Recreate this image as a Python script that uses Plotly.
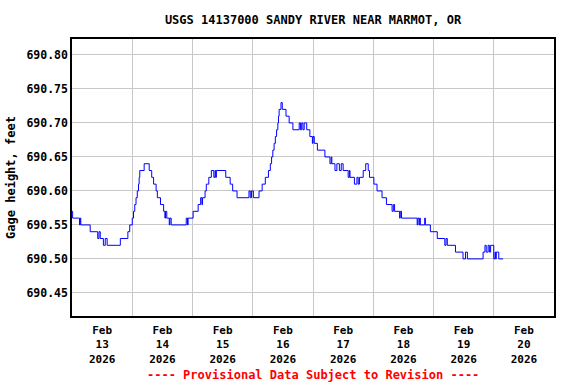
import pandas as pd
import plotly.graph_objects as go

# Hours since 2026-02-13 00:00 at which gage height changes (step data)
hours = [0, 0.25, 3.0, 3.25, 3.5, 7.25, 10.25, 10.75, 11.25, 12.5, 13.25, 14.0, 19.25,
         22.25, 23.0, 24.0, 24.5, 25.0, 25.5, 26.0, 26.5, 26.75, 27.0, 28.75, 30.75,
         31.75, 32.5, 33.5, 34.0, 35.25, 36.5, 37.0, 37.25, 37.75, 38.75, 39.0, 39.5,
         45.5, 46.0, 46.25, 48.25, 50.25, 51.25, 51.75, 52.0, 53.0, 53.5, 54.5, 55.5,
         56.5, 57.0, 57.25, 57.5, 61.25, 63.0, 64.0, 65.75, 70.5, 71.0, 71.5, 72.25,
         74.5, 75.75, 77.0, 78.25, 79.0, 79.5, 80.0, 80.5, 81.0, 81.5, 82.0, 82.25,
         82.5, 83.25, 83.75, 85.25, 86.5, 88.0, 90.5, 91.0, 91.5, 92.0, 92.5, 93.5,
         94.75, 95.75, 96.0, 96.5, 97.75, 100.75, 102.75, 103.25, 103.5, 104.75, 105.5,
         106.5, 107.25, 108.0, 110.0, 110.5, 110.75, 112.5, 113.5, 114.0, 114.5, 116.0,
         117.0, 118.0, 118.5, 120.25, 121.5, 123.5, 125.25, 127.5, 128.0, 128.5, 130.5,
         130.75, 131.25, 137.5, 137.75, 138.25, 138.5, 138.75, 140.5, 140.75, 142.75,
         145.5, 148.5, 149.0, 149.5, 152.75, 155.75, 156.75, 157.5, 163.75, 164.5,
         165.0, 165.75, 166.25, 166.75, 168.0, 168.5, 168.75, 169.0, 170.0, 171.75]
heights = [690.57, 690.56, 690.55, 690.56, 690.55, 690.54, 690.53, 690.54, 690.53, 690.52,
           690.53, 690.52, 690.53, 690.54, 690.55, 690.56, 690.57, 690.58, 690.59, 690.60,
           690.61, 690.62, 690.63, 690.64, 690.63, 690.62, 690.61, 690.60, 690.59, 690.58,
           690.57, 690.56, 690.57, 690.56, 690.55, 690.56, 690.55, 690.56, 690.55, 690.56,
           690.57, 690.58, 690.59, 690.58, 690.59, 690.60, 690.61, 690.62, 690.63, 690.62,
           690.63, 690.62, 690.63, 690.62, 690.61, 690.60, 690.59, 690.60, 690.59, 690.60,
           690.59, 690.60, 690.61, 690.62, 690.63, 690.64, 690.65, 690.66, 690.67, 690.68,
           690.69, 690.70, 690.71, 690.72, 690.73, 690.72, 690.71, 690.70, 690.69, 690.70,
           690.69, 690.70, 690.69, 690.70, 690.69, 690.68, 690.67, 690.68, 690.67, 690.66,
           690.65, 690.64, 690.65, 690.64, 690.63, 690.64, 690.63, 690.64, 690.63, 690.62,
           690.63, 690.62, 690.61, 690.62, 690.61, 690.62, 690.63, 690.64, 690.63, 690.62,
           690.61, 690.60, 690.59, 690.58, 690.57, 690.58, 690.57, 690.56, 690.57, 690.56,
           690.55, 690.56, 690.55, 690.56, 690.55, 690.56, 690.55, 690.54, 690.53, 690.52,
           690.53, 690.52, 690.51, 690.50, 690.51, 690.50, 690.51, 690.52, 690.51, 690.52,
           690.51, 690.52, 690.50, 690.51, 690.50, 690.51, 690.50, 690.50]

y_ticks = [690.45, 690.50, 690.55, 690.60, 690.65, 690.70, 690.75, 690.80]

start = pd.Timestamp("2026-02-13 00:00")
times = [start + pd.Timedelta(hours=h) for h in hours]

FONT = "DejaVu Sans Mono"

fig = go.Figure()
fig.add_trace(go.Scatter(x=times, y=heights, mode="lines",
                         line=dict(color="#0000ff", width=1, shape="hv"),
                         hoverinfo="x+y"))

fig.update_layout(
    width=576, height=384,
    margin=dict(l=72, r=22, t=39, b=68, autoexpand=False),
    paper_bgcolor="white", plot_bgcolor="white",
    showlegend=False,
    font=dict(family=FONT, size=12, color="black"),
    title=dict(text="<b>USGS 14137000 SANDY RIVER NEAR MARMOT, OR</b>",
               x=0.5, xref="paper", xanchor="center",
               y=1 - 20 / 384, yref="container", yanchor="middle",
               font=dict(family=FONT, size=12, color="black")),
    xaxis=dict(
        type="date",
        range=["2026-02-13 00:00", "2026-02-21 00:00"],
        tick0="2026-02-13", dtick=86400000,
        ticklabelmode="period",
        tickformat="<b>%b</b><br><b>%d</b><br><b>%Y</b>",
        showgrid=True, gridcolor="#c8c8c8", gridwidth=1,
        showline=True, linecolor="black", linewidth=1.5, mirror=True,
        ticks="", zeroline=False, automargin=False,
        ticklabelstandoff=3,
        tickfont=dict(family=FONT, size=11, color="black"),
    ),
    yaxis=dict(
        range=[690.416, 690.8235],
        tickvals=y_ticks,
        ticktext=[f"<b>{v:.2f}</b>" for v in y_ticks],
        showgrid=True, gridcolor="#c8c8c8", gridwidth=1,
        showline=True, linecolor="black", linewidth=1.5, mirror=True,
        ticks="", zeroline=False, automargin=False,
        tickfont=dict(family=FONT, size=11.5, color="black"),
        title=dict(text="<b>Gage height, feet</b>", standoff=8,
                   font=dict(family=FONT, size=12, color="black")),
    ),
)

fig.add_annotation(text="<b>---- Provisional Data Subject to Revision ----</b>",
                   xref="paper", yref="paper", x=0.5, y=-(375 - 316) / 277,
                   xanchor="center", yanchor="middle", showarrow=False,
                   font=dict(family=FONT, size=12, color="#ff0000"))

fig.write_html("out.html",
               config={"displayModeBar": False},
               post_script="document.body.style.margin='0';document.body.style.padding='0';")
